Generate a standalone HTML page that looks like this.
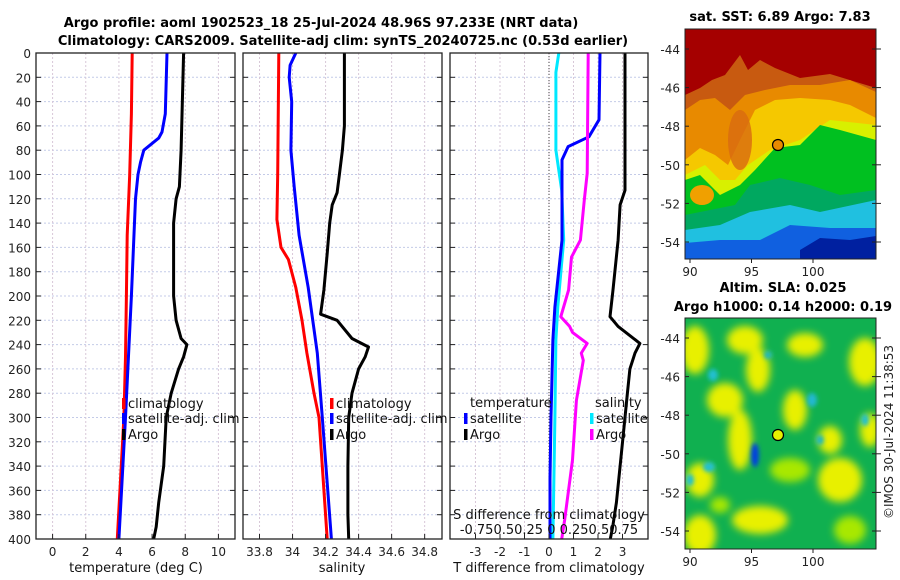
<!DOCTYPE html>
<html><head><meta charset="utf-8"><style>
body{margin:0;background:#fff}
svg{display:block;font-family:"DejaVu Sans","Liberation Sans",sans-serif}
</style></head><body>
<svg id="fig" width="900" height="580" viewBox="0 0 900 580" xmlns="http://www.w3.org/2000/svg">
<defs>
<filter id="blur" x="-20%" y="-20%" width="140%" height="140%"><feGaussianBlur stdDeviation="4"/></filter>
<filter id="blur2" x="-20%" y="-20%" width="140%" height="140%"><feGaussianBlur stdDeviation="2"/></filter>
<clipPath id="clipTop"><rect x="685" y="29" width="191" height="230"/></clipPath>
<clipPath id="clipBot"><rect x="685" y="318" width="191" height="231"/></clipPath>
</defs>
<text x="321" y="27" font-size="13" font-weight="bold" text-anchor="middle">Argo profile: aoml 1902523_18 25-Jul-2024 48.96S 97.233E (NRT data)</text>
<text x="343" y="45" font-size="13" font-weight="bold" text-anchor="middle">Climatology: CARS2009. Satellite-adj clim: synTS_20240725.nc (0.53d earlier)</text>
<g id="plots"></g>

<!-- top map -->
<g clip-path="url(#clipTop)">
<rect x="685" y="29" width="191" height="230" fill="#a50000"/>
<polygon fill="#c85a10" points="685,95 700,88 712,80 725,75 740,55 748,70 760,60 775,68 800,78 830,74 876,88 876,259 685,259"/>
<polygon fill="#e88a00" points="685,110 700,100 715,98 730,110 745,95 765,90 790,85 820,85 850,80 876,92 876,259 685,259"/>
<polygon fill="#f5c800" points="685,160 700,148 715,155 728,165 740,140 755,110 775,100 800,98 830,100 850,105 876,118 876,259 685,259"/>
<polygon fill="#d8f000" points="685,175 705,165 720,180 735,180 748,165 770,150 800,140 830,120 876,125 876,259 685,259"/>
<polygon fill="#00c020" points="685,180 700,175 720,195 740,185 755,170 775,148 800,145 820,125 840,130 876,140 876,259 685,259"/>
<polygon fill="#00a860" points="685,215 710,210 735,205 750,185 780,178 810,185 840,195 876,190 876,259 685,259"/>
<polygon fill="#20c0e0" points="685,230 720,225 750,212 790,205 820,212 876,200 876,259 685,259"/>
<polygon fill="#1060e0" points="685,243 720,240 760,240 790,225 830,228 876,228 876,259 685,259"/>
<polygon fill="#0020a0" points="800,250 820,238 850,240 876,236 876,259 800,259"/>
<ellipse cx="702" cy="195" rx="12" ry="10" fill="#f0a000"/>
<ellipse cx="740" cy="140" rx="12" ry="30" fill="#d86a10" opacity="0.8"/>
</g>
<rect x="685" y="29" width="191" height="230" fill="none" stroke="#222" stroke-width="1"/>
<circle cx="778" cy="145" r="5.5" fill="#e88a00" stroke="#000" stroke-width="1.2"/>
<text x="780" y="21" font-size="13" font-weight="bold" text-anchor="middle">sat. SST: 6.89 Argo: 7.83</text>

<!-- bottom map -->
<g clip-path="url(#clipBot)">
<rect x="685" y="318" width="191" height="231" fill="#10b050"/>
<g filter="url(#blur)" fill="#e8f000">
<ellipse cx="695" cy="350" rx="14" ry="24"/>
<ellipse cx="745" cy="340" rx="18" ry="14"/>
<ellipse cx="758" cy="370" rx="12" ry="22"/>
<ellipse cx="805" cy="345" rx="18" ry="12"/>
<ellipse cx="725" cy="400" rx="18" ry="17"/>
<ellipse cx="740" cy="440" rx="12" ry="30"/>
<ellipse cx="795" cy="410" rx="12" ry="20"/>
<ellipse cx="700" cy="480" rx="14" ry="17"/>
<ellipse cx="700" cy="535" rx="16" ry="20"/>
<ellipse cx="760" cy="520" rx="28" ry="14"/>
<ellipse cx="840" cy="480" rx="22" ry="22"/>
<ellipse cx="865" cy="362" rx="16" ry="24"/>
<ellipse cx="830" cy="440" rx="12" ry="14"/>
<ellipse cx="870" cy="430" rx="10" ry="17"/>
<ellipse cx="790" cy="470" rx="20" ry="12" fill="#a8e800"/>
<ellipse cx="850" cy="530" rx="16" ry="14" fill="#a8e800"/>
<ellipse cx="720" cy="505" rx="10" ry="8" fill="#a8e800"/>
</g>
<g filter="url(#blur2)">
<ellipse cx="755" cy="455" rx="4" ry="12" fill="#0040e0"/>
<ellipse cx="713" cy="375" rx="5" ry="6" fill="#20c0d0"/>
<ellipse cx="812" cy="400" rx="5" ry="7" fill="#20b8d0"/>
<ellipse cx="709" cy="467" rx="6" ry="5" fill="#20c0d0"/>
<ellipse cx="690" cy="480" rx="4" ry="6" fill="#20c0d0"/>
<ellipse cx="768" cy="355" rx="4" ry="4" fill="#20b8c0"/>
<ellipse cx="820" cy="440" rx="4" ry="5" fill="#20b8c0"/>
<ellipse cx="865" cy="420" rx="4" ry="6" fill="#20c0d0"/>
</g>
</g>
<rect x="685" y="318" width="191" height="231" fill="none" stroke="#222" stroke-width="1"/>
<circle cx="778" cy="435" r="5.5" fill="#e8f000" stroke="#000" stroke-width="1.2"/>
<text x="783" y="292" font-size="13" font-weight="bold" text-anchor="middle">Altim. SLA: 0.025</text>
<text x="783" y="311" font-size="13" font-weight="bold" text-anchor="middle">Argo h1000: 0.14 h2000: 0.19</text>
<text transform="translate(893,432) rotate(-90)" font-size="12" text-anchor="middle" fill="#222">©IMOS 30-Jul-2024 11:38:53</text>
<g id="maptext"></g>
</svg>
<script>
// ---- data ----
const depthTicks = [0,20,40,60,80,100,120,140,160,180,200,220,240,260,280,300,320,340,360,380,400];
const tTicks = [0,2,4,6,8,10];
const sTicks = [33.8,34,34.2,34.4,34.6,34.8];
const dtTicks = [-3,-2,-1,0,1,2,3];
const dsTickLabel = "-0.750.50.25 0 0.250.50.75";

const tClimDepth = [0,50,100,150,200,250,300,350,400];
const tClim = [4.8,4.75,4.65,4.5,4.45,4.4,4.3,4.1,3.9];
const tSatDepth = [0,50,65,70,80,90,100,120,200,300,400];
const tSat = [6.9,6.8,6.6,6.4,5.5,5.3,5.15,5.0,4.75,4.4,4.0];
const tArgoDepth = [0,80,110,120,140,200,220,235,240,250,260,280,300,340,370,390,400];
const tArgo = [7.9,7.75,7.65,7.45,7.3,7.3,7.45,7.75,8.1,7.9,7.6,7.15,6.85,6.7,6.4,6.25,6.1];

const sClimDepth = [0,100,137,160,170,193,220,247,280,300,400];
const sClim = [33.917,33.91,33.905,33.93,33.975,34.02,34.057,34.087,34.13,34.16,34.21];
const sSatDepth = [0,10,20,40,80,110,150,193,247,300,400];
const sSat = [34.02,33.985,33.98,33.995,33.99,34.01,34.04,34.095,34.15,34.18,34.235];
const sArgoDepth = [0,60,80,100,115,125,140,165,195,215,220,235,242,250,260,280,300,340,380,400];
const sArgo = [34.314,34.314,34.302,34.284,34.27,34.24,34.225,34.21,34.19,34.17,34.27,34.36,34.46,34.44,34.40,34.36,34.34,34.335,34.335,34.34];

const dtSatDepth = [0,55,69,77,88,154,209,236,300,350,400];
const dtSat = [2.08,2.04,1.63,0.78,0.53,0.53,0.24,0.16,0.08,0.04,0.04];
const dtArgoDepth = [0,80,113,125,154,195,217,225,239,247,260,280,300,340,370,390,400];
const dtArgo = [3.1,3.1,3.1,2.9,2.82,2.61,2.49,2.82,3.71,3.51,3.3,3.2,3.1,2.9,2.75,2.6,2.5];
const dsSatDepth = [0,16,80,113,154,209,236,300,400];
const dsSat = [0.10,0.07,0.07,0.13,0.15,0.09,0.07,0.06,0.04];
const dsArgoDepth = [0,99,121,154,168,195,217,225,230,239,247,253,286,335,384,400];
const dsArgo = [0.40,0.39,0.36,0.32,0.23,0.20,0.12,0.21,0.24,0.39,0.33,0.35,0.28,0.24,0.16,0.13];

const latTicks = [-44,-46,-48,-50,-52,-54];
const lonTicks = [90,95,100];

// ---- helpers ----
const svg = document.getElementById('plots');
const NS = 'http://www.w3.org/2000/svg';
function mk(tag, attrs, parent){const e=document.createElementNS(NS,tag);for(const k in attrs)e.setAttribute(k,attrs[k]);(parent||svg).appendChild(e);return e;}
const Y0=53, Y1=539;
const yD = d => Y0 + (d/400)*(Y1-Y0);

const panels = [
 {name:'temperature', x0:36, x1:235, dmin:-1, dmax:11},
 {name:'salinity', x0:243, x1:442, dmin:33.7, dmax:34.905},
 {name:'difference', x0:450, x1:648, dmin:-4.04, dmax:4.04}
];
panels.forEach(p=>{p.sx = v => p.x0 + (v-p.dmin)/(p.dmax-p.dmin)*(p.x1-p.x0);});
const dsx = v => panels[2].sx(v*4);

function grid(p, ticks){
  const g = mk('g',{});
  
  
  depthTicks.forEach(d=>{ if(d>0&&d<400) mk('line',{x1:p.x0,x2:p.x1,y1:yD(d),y2:yD(d),stroke:'#c4cbe8','stroke-width':1,'stroke-dasharray':'2,2'},g);});
  ticks.forEach(t=>{const x=p.sx(t); mk('line',{x1:x,x2:x,y1:Y0,y2:Y1,stroke:'#d8c8d8','stroke-width':1,'stroke-dasharray':'2,2'},g);});
}
function frame(p, ticks, labels){
  const g = mk('g',{});
  
  
  mk('rect',{x:p.x0,y:Y0,width:p.x1-p.x0,height:Y1-Y0,fill:'none',stroke:'#222','stroke-width':1.3},g);
  depthTicks.forEach(d=>{ mk('line',{x1:p.x0,x2:p.x0+5,y1:yD(d),y2:yD(d),stroke:'#222'},g); mk('line',{x1:p.x1-5,x2:p.x1,y1:yD(d),y2:yD(d),stroke:'#222'},g);});
  ticks.forEach((t,i)=>{const x=p.sx(t);
    mk('line',{x1:x,x2:x,y1:Y1-5,y2:Y1,stroke:'#222'},g);
    const tx=mk('text',{x:x,y:556,'font-size':12,'text-anchor':'middle',fill:'#222'},g); tx.textContent=labels?labels[i]:String(t);});
}
function line(p, depths, vals, color, name, sx){
  const f = sx || p.sx;
  const pts = depths.map((d,i)=>f(vals[i]).toFixed(1)+','+yD(d).toFixed(1)).join(' ');
  const e = mk('polyline',{points:pts,fill:'none',stroke:color,'stroke-width':3,'stroke-linejoin':'round'});
  
  
}
function txt(x,y,s,name,opts){
  const e = mk('text',Object.assign({x:x,y:y,'font-size':13,fill:'#111'},opts||{}));
  e.textContent=s;
  
  
  return e;
}
function legendItem(x,y,color,label,name){
  const g = mk('g',{});
  
  
  mk('rect',{x:x,y:y-10,width:3.5,height:11,fill:color},g);
  const t = mk('text',{x:x+6,y:y,'font-size':13,fill:'#111'},g); t.textContent=label;
}

grid(panels[0], tTicks); grid(panels[1], sTicks); grid(panels[2], dtTicks);

line(panels[0], tClimDepth, tClim, '#ff0000', 'temp-climatology-line');
line(panels[0], tSatDepth, tSat, '#0000ff', 'temp-satellite-line');
line(panels[0], tArgoDepth, tArgo, '#000000', 'temp-argo-line');
line(panels[1], sClimDepth, sClim, '#ff0000', 'sal-climatology-line');
line(panels[1], sSatDepth, sSat, '#0000ff', 'sal-satellite-line');
line(panels[1], sArgoDepth, sArgo, '#000000', 'sal-argo-line');
const zl = mk('line',{x1:panels[2].sx(0),x2:panels[2].sx(0),y1:Y0,y2:Y1,stroke:'#444','stroke-dasharray':'1,2'});


line(panels[2], dsSatDepth, dsSat, '#00e8ff', 'sal-diff-satellite-line', dsx);
line(panels[2], dtSatDepth, dtSat, '#0000ff', 'temp-diff-satellite-line');
line(panels[2], dsArgoDepth, dsArgo, '#ff00ff', 'sal-diff-argo-line', dsx);
line(panels[2], dtArgoDepth, dtArgo, '#000000', 'temp-diff-argo-line');

frame(panels[0], tTicks); frame(panels[1], sTicks); frame(panels[2], dtTicks);
depthTicks.forEach(d=>{const e=mk('text',{x:31,y:yD(d)+5,'font-size':12,'text-anchor':'end',fill:'#222'}); e.textContent=String(d);
  
  });

txt(136,572,'temperature (deg C)','temp-x-axis-title',{'text-anchor':'middle'});
txt(342,572,'salinity','sal-x-axis-title',{'text-anchor':'middle'});
txt(549,572,'T difference from climatology','tdiff-x-axis-title',{'text-anchor':'middle'});
txt(549,519,'S difference from climatology','sdiff-axis-title',{'text-anchor':'middle'});
txt(549,534,dsTickLabel,'sdiff-tick-labels',{'text-anchor':'middle'});

legendItem(122,408,'#ff0000','climatology','legend-temp-climatology');
legendItem(122,423,'#0000ff','satellite-adj. clim','legend-temp-satellite');
legendItem(122,439,'#000000','Argo','legend-temp-argo');
legendItem(330,408,'#ff0000','climatology','legend-sal-climatology');
legendItem(330,423,'#0000ff','satellite-adj. clim','legend-sal-satellite');
legendItem(330,439,'#000000','Argo','legend-sal-argo');
txt(470,407,'temperature','legend-temperature-heading');
legendItem(464,423,'#0000ff','satellite','legend-tdiff-satellite');
legendItem(464,439,'#000000','Argo','legend-tdiff-argo');
txt(595,407,'salinity','legend-salinity-heading');
legendItem(590,423,'#00e8ff','satellite','legend-sdiff-satellite');
legendItem(590,439,'#ff00ff','Argo','legend-sdiff-argo');

const mt = document.getElementById('maptext');
function mapAxes(top, name){
  const latY = lat => top + 20 + (-44-lat)*19.3;
  latTicks.forEach(l=>{const y=latY(l);
    const e=mk('text',{x:680,y:y+5,'font-size':12,'text-anchor':'end',fill:'#222'},mt); e.textContent=String(l);
    
    
    mk('line',{x1:685,x2:689,y1:y,y2:y,stroke:'#222'},mt);
    mk('line',{x1:872,x2:881,y1:y,y2:y,stroke:'#222'},mt);
  });
  const bottom = name==='sst' ? 259 : 549;
  lonTicks.forEach(l=>{const x=690+(l-90)*12.3;
    const e=mk('text',{x:x,y:bottom+17,'font-size':12,'text-anchor':'middle',fill:'#222'},mt); e.textContent=String(l);
    
    
    mk('line',{x1:x,x2:x,y1:bottom,y2:bottom+4,stroke:'#222'},mt);
  });
}
mapAxes(29,'sst'); mapAxes(318,'sla');
</script>
</body></html>
